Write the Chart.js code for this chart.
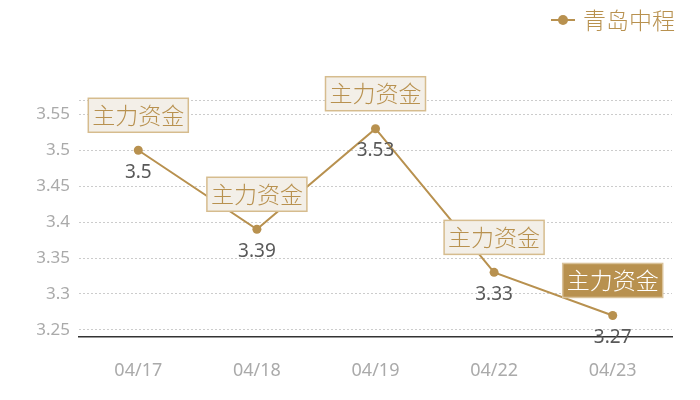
<!DOCTYPE html>
<html>
<head>
<meta charset="utf-8">
<script src="https://cdn.jsdelivr.net/npm/chart.js@4/dist/chart.umd.min.js"></script>
<style>
  html, body { margin: 0; padding: 0; background: #fff; }
  #wrap { width: 700px; height: 400px; }
</style>
</head>
<body>
<div id="wrap"><canvas id="flowChart"></canvas></div>
<script>
const dates = ['04/17', '04/18', '04/19', '04/22', '04/23'];
const prices = [3.5, 3.39, 3.53, 3.33, 3.27];
const tagText = '主力资金';
const seriesName = '青岛中程';
const yTickValues = [3.25, 3.3, 3.35, 3.4, 3.45, 3.5, 3.55];
const yMin = 3.24;
const yMax = 3.57;

const gold = '#b8914f';
const cjkFont = "'Noto Sans CJK SC', sans-serif";
const numFont = "'Noto Sans', 'Open Sans', sans-serif";

// draws value text, tag boxes and legend on top of the line
const annotate = {
    id: 'annotate',
    afterDatasetsDraw(chart) {
        const c = chart.ctx;
        const meta = chart.getDatasetMeta(0);
        c.save();
        meta.data.forEach((pt, i) => {
            const x = pt.x, y = pt.y;

            c.font = '19px ' + numFont;
            c.fillStyle = '#595959';
            c.textAlign = 'center';
            c.textBaseline = 'middle';
            c.fillText(String(prices[i]), x, y + 22);

            const last = i === prices.length - 1;
            c.font = '300 23px ' + cjkFont;
            const w = c.measureText(tagText).width + 8;
            const h = 34;
            const bx = x - w / 2, by = y - 35 - h / 2;
            c.fillStyle = last ? gold : '#f3efe8';
            c.fillRect(bx, by, w, h);
            c.strokeStyle = last ? '#d9c29a' : '#d6bc8e';
            c.lineWidth = 1.5;
            c.strokeRect(bx, by, w, h);
            c.fillStyle = last ? '#ffffff' : gold;
            c.fillText(tagText, x, y - 35);
        });

        // legend
        c.font = '300 23px ' + cjkFont;
        c.textAlign = 'right';
        c.textBaseline = 'middle';
        const right = chart.width - 25;
        const tw = c.measureText(seriesName).width;
        c.fillStyle = gold;
        c.fillText(seriesName, right, 20);
        const lx = right - tw - 32;
        c.strokeStyle = gold;
        c.lineWidth = 2;
        c.beginPath();
        c.moveTo(lx, 20);
        c.lineTo(lx + 24, 20);
        c.stroke();
        c.beginPath();
        c.arc(lx + 12, 20, 5, 0, Math.PI * 2);
        c.fill();
        c.restore();
    }
};

const chart = new Chart(document.getElementById('flowChart'), {
    type: 'line',
    data: {
        labels: dates,
        datasets: [{
            label: seriesName,
            data: prices,
            borderColor: gold,
            backgroundColor: gold,
            borderWidth: 2,
            pointRadius: 4.5,
            pointBackgroundColor: gold,
            pointBorderWidth: 0,
            tension: 0
        }]
    },
    options: {
        responsive: true,
        maintainAspectRatio: false,
        animation: false,
        layout: { padding: { top: 100, right: 28, left: 0, bottom: 0 } },
        plugins: {
            legend: { display: false },
            tooltip: { enabled: false }
        },
        scales: {
            x: {
                offset: true,
                grid: { display: false, drawTicks: false },
                border: { display: true, color: '#333333', width: 1.5 },
                ticks: {
                    padding: 23,
                    color: '#aaaaaa',
                    font: { family: numFont, size: 18 }
                },
                afterFit(scale) { scale.height = 63; }
            },
            y: {
                min: yMin,
                max: yMax,
                afterBuildTicks(scale) {
                    scale.ticks = [yMin, ...yTickValues, yMax].map(v => ({ value: v }));
                },
                afterFit(scale) { scale.width = 79; },
                border: { display: false, dash: [2, 2] },
                grid: {
                    drawTicks: false,
                    color: ctx => (ctx.tick && ctx.tick.value === yMin) ? 'rgba(0,0,0,0)' : '#cccccc',
                    lineWidth: 1
                },
                ticks: {
                    padding: 9,
                    color: '#aaaaaa',
                    font: { family: numFont, size: 17 },
                    callback: v => yTickValues.some(t => Math.abs(t - v) < 1e-9) ? String(+v.toFixed(2)) : ''
                }
            }
        }
    },
    plugins: [annotate]
});
</script>
</body>
</html>
